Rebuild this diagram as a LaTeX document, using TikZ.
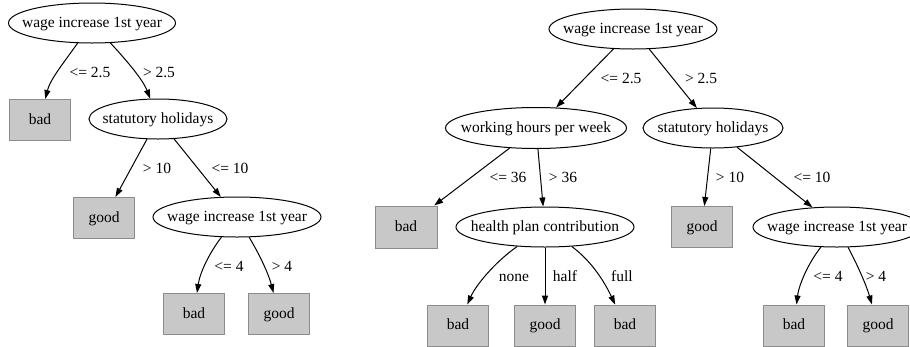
\documentclass[tikz,border=0pt]{standalone}
\usepackage{fontspec}
\setmainfont{Liberation Serif}
\usetikzlibrary{shapes.geometric,arrows.meta}

\definecolor{leaffill}{RGB}{200,200,200}
\definecolor{leafborder}{RGB}{140,140,140}

% zero-width box so that an ellipse keeps its given size around the text
\newcommand{\zw}[1]{\makebox[0pt]{#1}}

\begin{document}
\begin{tikzpicture}[x=1pt,y=-1pt,
  font=\fontsize{15.5pt}{18pt}\selectfont,
  every node/.style={text height=11pt,text depth=3pt,inner sep=0pt},
  split/.style={ellipse,draw=black,line width=1pt,minimum height=40pt},
  leaf/.style={rectangle,draw=leafborder,fill=leaffill,line width=1pt,
    minimum width=61pt,minimum height=41pt},
  edge/.style={draw=black,line width=1pt,-{Triangle[length=9pt,width=6pt]}},
  lbl/.style={}]
\useasboundingbox (0,0) rectangle (910,346);

% ---------- first tree ----------
\node[split,minimum width=167pt] (a) at (92,23) {\zw{wage increase 1st year}};
\node[leaf] (a1) at (40,120) {bad};
\node[split,minimum width=138pt] (a2) at (158,119) {\zw{statutory holidays}};
\node[leaf] (a21) at (104,218) {good};
\node[split,minimum width=168pt] (a22) at (237,217) {\zw{wage increase 1st year}};
\node[leaf] (a221) at (194,314) {bad};
\node[leaf] (a222) at (279,314) {good};

\draw[edge] (a) .. controls (62,65) and (50,80) .. (a1);
\draw[edge] (a) .. controls (128,62) and (143,80) .. (a2);
\draw[edge] (a2) -- (a21);
\draw[edge] (a2) -- (a22);
\draw[edge] (a22) .. controls (210,252) and (200,272) .. (a221);
\draw[edge] (a22) .. controls (258,252) and (268,272) .. (a222);

\node[lbl] (la1) at (90,73) {<= 2.5};
\node[lbl] (la2) at (159,73) {> 2.5};
\node[lbl] (la21) at (157,169) {> 10};
\node[lbl] (la22) at (230,169) {<= 10};
\node[lbl] (la221) at (229,267) {<= 4};
\node[lbl] (la222) at (282,267) {> 4};

% ---------- second tree ----------
\node[split,minimum width=168pt] (b) at (633,29) {\zw{wage increase 1st year}};
\node[split,minimum width=181pt,minimum height=41pt] (b1) at (536,128) {\zw{working hours per week}};
\node[split,minimum width=140pt] (b2) at (713,128) {\zw{statutory holidays}};
\node[leaf,minimum width=62pt,minimum height=42pt] (b11) at (406,227) {bad};
\node[split,minimum width=178pt] (b12) at (545,227) {\zw{health plan contribution}};
\node[leaf] (b21) at (702,227) {good};
\node[split,minimum width=168pt] (b22) at (837,227) {\zw{wage increase 1st year}};
\node[leaf] (b121) at (458,325.5) {bad};
\node[leaf] (b122) at (545,325.5) {good};
\node[leaf] (b123) at (625,325.5) {bad};
\node[leaf] (b221) at (794,325.5) {bad};
\node[leaf] (b222) at (878,325.5) {good};

\draw[edge] (b) -- (b1);
\draw[edge] (b) -- (b2);
\draw[edge] (b1) -- (b11);
\draw[edge] (b1) -- (b12);
\draw[edge] (b12) .. controls (495,262) and (476,285) .. (b121);
\draw[edge] (b12) -- (b122);
\draw[edge] (b12) .. controls (593,262) and (606,285) .. (b123);
\draw[edge] (b2) -- (b21);
\draw[edge] (b2) -- (b22);
\draw[edge] (b22) .. controls (809,262) and (799,284) .. (b221);
\draw[edge] (b22) .. controls (856,262) and (866,284) .. (b222);

\node[lbl] (lb1) at (621,79) {<= 2.5};
\node[lbl] (lb2) at (701,79) {> 2.5};
\node[lbl] (lb11) at (508,178) {<= 36};
\node[lbl] (lb12) at (563,178) {> 36};
\node[lbl] (lb121) at (514,277) {none};
\node[lbl] (lb122) at (565,277) {half};
\node[lbl] (lb123) at (622,277) {full};
\node[lbl] (lb21) at (730,178) {> 10};
\node[lbl] (lb22) at (812,178) {<= 10};
\node[lbl] (lb221) at (828,277) {<= 4};
\node[lbl] (lb222) at (876,277) {> 4};
\end{tikzpicture}
\end{document}
